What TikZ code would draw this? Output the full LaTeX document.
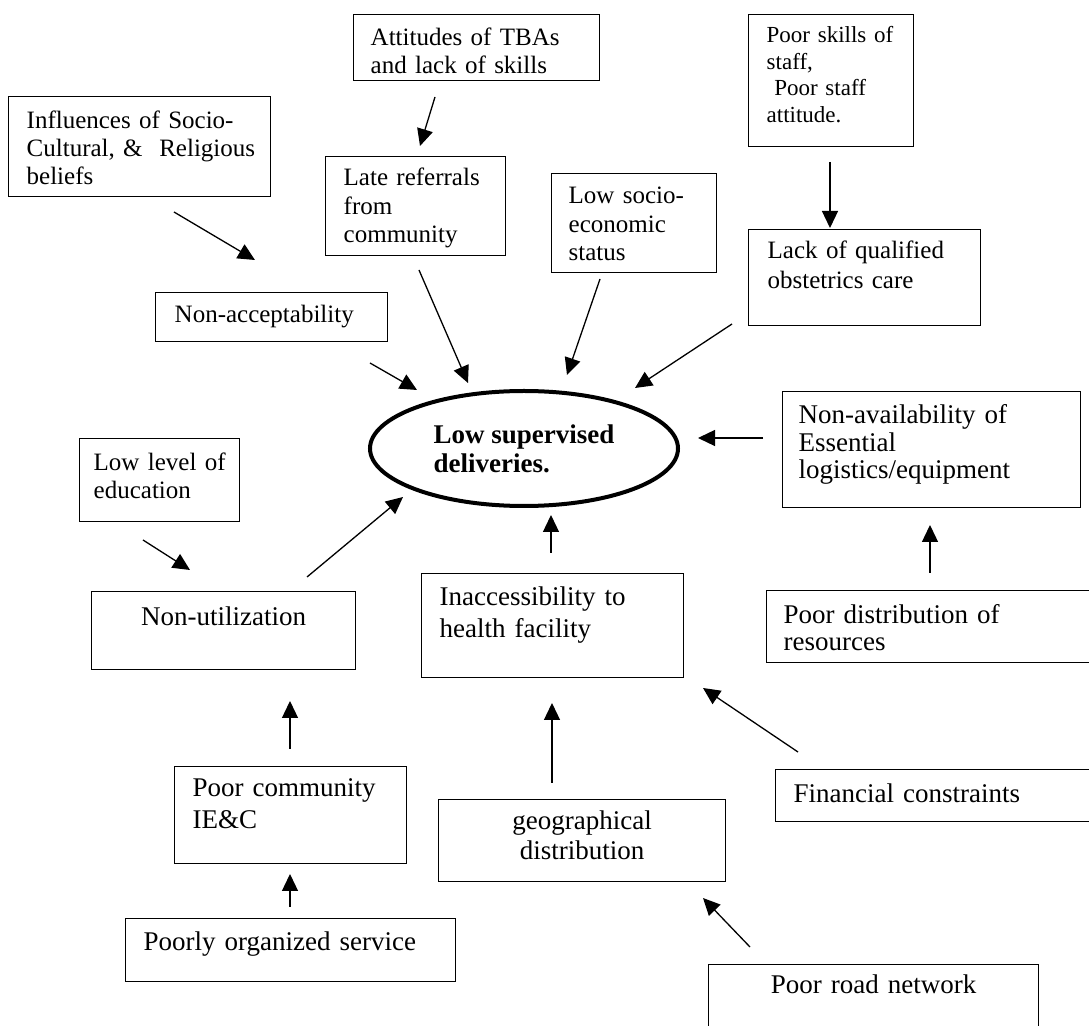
\documentclass[tikz,border=0pt]{standalone}
\usepackage{fontspec}
\setmainfont{Liberation Serif}
\usetikzlibrary{shapes.geometric, arrows.meta}

\tikzset{
    box/.style={draw, line width=0.7pt, anchor=north west, align=left, inner ysep=0pt},
    arr/.style={-{Triangle[length=8.5pt, width=8pt]}, line width=0.65pt}
}

\begin{document}
\begin{tikzpicture}[x=0.5pt, y=-0.5pt]
    \useasboundingbox (0,0) rectangle (1089,1026);
    \clip (0,0) rectangle (1089,1026);

    % Draw nodes
    \node[box, inner xsep=8.5pt, text width=106pt, text height=15.5pt, text depth=17.5pt, font=\fontsize{12.5}{14}\selectfont] (att) at (353,14) {Attitudes of TBAs\\and lack of skills};
    \node[box, inner xsep=9pt, text width=113pt, text height=16pt, text depth=34pt, font=\fontsize{12.5}{14}\selectfont] (infl) at (8,96) {Influences of Socio-\\\mbox{Cultural, \&~ Religious}\\beliefs};
    \node[box, inner xsep=9pt, text width=72pt, text height=14.5pt, text depth=35pt, font=\fontsize{12.5}{14.25}\selectfont] (late) at (325,156) {Late referrals\\from\\community};
    \node[box, inner xsep=9pt, text width=64.5pt, text height=14pt, text depth=52pt, font=\fontsize{11.5}{13.3}\selectfont] (skills) at (748,14) {Poor skills of\\staff,\\~Poor staff\\attitude.};
    \node[box, inner xsep=8.5pt, text width=65.5pt, text height=15pt, text depth=34.5pt, font=\fontsize{12.5}{14.25}\selectfont] (socio) at (551,173) {Low socio-\\economic\\status};
    \node[box, inner xsep=9.5pt, text width=97pt, text height=14.5pt, text depth=33.5pt, font=\fontsize{12.5}{15}\selectfont] (lack) at (748,229) {Lack of qualified\\obstetrics care};
    \node[box, inner xsep=9.5pt, text width=97pt, text height=15pt, text depth=9.5pt, font=\fontsize{12.5}{14}\selectfont] (nacc) at (155,292) {Non-acceptability};
    \node[draw, ellipse, line width=2pt, minimum width=154pt, minimum height=57.5pt, align=left, font=\bfseries\fontsize{13.5}{14.5}\selectfont] (low) at (524,448.5) {Low supervised\\deliveries.};
    \node[box, inner xsep=8pt, text width=133pt, text height=16pt, text depth=42pt, font=\fontsize{13.5}{13.75}\selectfont] (navail) at (782,391) {Non-availability of\\Essential\\logistics/equipment};
    \node[box, inner xsep=7pt, text width=66pt, text height=16pt, text depth=25.5pt, font=\fontsize{12.5}{14}\selectfont] (lowedu) at (79,438) {Low level of\\education};
    \node[box, align=center, inner xsep=9pt, text width=114pt, text height=17pt, text depth=22pt, font=\fontsize{13.5}{15}\selectfont] (nutil) at (91,591) {Non-utilization};
    \node[box, inner xsep=9pt, text width=113pt, text height=16pt, text depth=36pt, font=\fontsize{13.5}{16}\selectfont] (inacc) at (421,573) {Inaccessibility to\\health facility};
    \node[box, inner xsep=8.5pt, text width=150pt, text height=16.5pt, text depth=19.5pt, font=\fontsize{13.5}{13.5}\selectfont] (pdist) at (766,590) {Poor distribution of\\resources};
    \node[box, inner xsep=9pt, text width=98pt, text height=15pt, text depth=33.5pt, font=\fontsize{13.5}{16}\selectfont] (pcomm) at (174,766) {Poor community\\IE\&C};
    \node[box, align=center, inner xsep=9pt, text width=125.5pt, text height=15pt, text depth=26pt, font=\fontsize{13.5}{15}\selectfont] (geo) at (438,799) {geographical\\distribution};
    \node[box, inner xsep=9pt, text width=144.5pt, text height=16.5pt, text depth=9.5pt, font=\fontsize{13.5}{14}\selectfont] (fin) at (775,769) {Financial constraints};
    \node[box, inner xsep=9pt, text width=147pt, text height=16pt, text depth=15.5pt, font=\fontsize{13.5}{14}\selectfont] (porg) at (125,918) {Poorly organized service};
    \node[box, align=center, inner xsep=9pt, text width=147pt, text height=14.5pt, text depth=23.5pt, font=\fontsize{13.5}{14}\selectfont] (road) at (708,964) {Poor road network};

    % Arrow ends
    \coordinate (att1) at (435,97);     \coordinate (att2) at (420,146);
    \coordinate (skills1) at (830,162); \coordinate (skills2) at (830,228);
    \coordinate (infl1) at (174,212);   \coordinate (infl2) at (255,260);
    \coordinate (late1) at (419,270);   \coordinate (late2) at (468,383);
    \coordinate (nacc1) at (370,363);   \coordinate (nacc2) at (417,390);
    \coordinate (socio1) at (600,279);  \coordinate (socio2) at (567,375);
    \coordinate (lack1) at (732,324);   \coordinate (lack2) at (635,388);
    \coordinate (navail1) at (763,438); \coordinate (navail2) at (698,438);
    \coordinate (pdist1) at (930,573);  \coordinate (pdist2) at (930,525);
    \coordinate (inacc1) at (551,553);  \coordinate (inacc2) at (551,515);
    \coordinate (geo1) at (552,783);    \coordinate (geo2) at (552,703);
    \coordinate (fin1) at (798,752);    \coordinate (fin2) at (703,688);
    \coordinate (road1) at (750,947);   \coordinate (road2) at (703,898);
    \coordinate (lowedu1) at (143,540); \coordinate (lowedu2) at (190,570);
    \coordinate (nutil1) at (307,577);  \coordinate (nutil2) at (403,497);
    \coordinate (pcomm1) at (290,749);  \coordinate (pcomm2) at (290,701);
    \coordinate (porg1) at (290,907);   \coordinate (porg2) at (290,874);

    % Draw connections
    \draw[arr] (att1) -- (att2);
    \draw[arr] (skills1) -- (skills2);
    \draw[arr] (infl1) -- (infl2);
    \draw[arr] (late1) -- (late2);
    \draw[arr] (nacc1) -- (nacc2);
    \draw[arr] (socio1) -- (socio2);
    \draw[arr] (lack1) -- (lack2);
    \draw[arr] (navail1) -- (navail2);
    \draw[arr] (pdist1) -- (pdist2);
    \draw[arr] (inacc1) -- (inacc2);
    \draw[arr] (geo1) -- (geo2);
    \draw[arr] (fin1) -- (fin2);
    \draw[arr] (road1) -- (road2);
    \draw[arr] (lowedu1) -- (lowedu2);
    \draw[arr] (nutil1) -- (nutil2);
    \draw[arr] (pcomm1) -- (pcomm2);
    \draw[arr] (porg1) -- (porg2);
\end{tikzpicture}
\end{document}
